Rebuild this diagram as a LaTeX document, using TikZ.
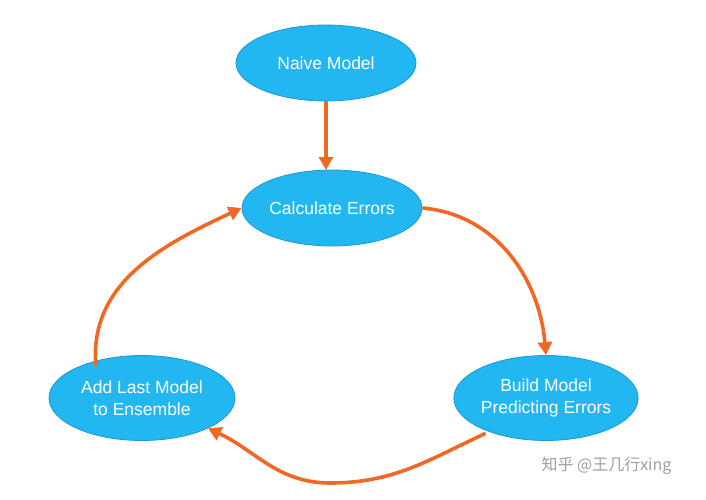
\documentclass[tikz,border=0pt]{standalone}
\usepackage{fontspec}
\setmainfont{Liberation Sans}
\newfontfamily\cjk{Noto Sans CJK SC}
\usetikzlibrary{shapes.geometric,arrows.meta}
\definecolor{nodefill}{RGB}{34,183,241}
\definecolor{nodeline}{RGB}{30,150,210}
\definecolor{arr}{RGB}{241,104,37}
\begin{document}
\begin{tikzpicture}[x=1pt,y=-1pt,
  st/.style={ellipse,draw=nodeline,line width=0.8pt,fill=nodefill,text=white,font=\fontsize{17.5}{22}\selectfont,align=center,inner sep=0pt},
  ar/.style={draw=arr,line width=3.6pt,-{Triangle[length=13pt,width=14pt]}}]
\useasboundingbox (0,0) rectangle (706,500);
\node[st,minimum width=180,minimum height=76] (naive) at (326,63) {Naive Model};
\node[st,minimum width=180,minimum height=76] (calc) at (332,208) {Calculate Errors};
\node[st,minimum width=186,minimum height=85] (add) at (142,398) {Add Last Model\\to Ensemble};
\node[st,minimum width=184,minimum height=85] (build) at (546,398) {Build Model\\Predicting Errors};
\coordinate (ctop) at (326,170);
\draw[ar] (naive.south) -- (ctop);
\draw[ar] (calc.east) to[out=-5,in=95] (build.north);
\draw[ar] (build.south west) ++(5,5) to[out=-155,in=0] (330,483) to[out=180,in=-25] (add.south east);
\draw[ar] (add.north west) ++(20,-2) to[out=95,in=205] (calc.west);
\node[text=gray!75,font=\cjk\fontsize{16}{18}\selectfont,anchor=west] (wm) at (538,466) {知乎 @王几行xing};
\end{tikzpicture}
\end{document}
